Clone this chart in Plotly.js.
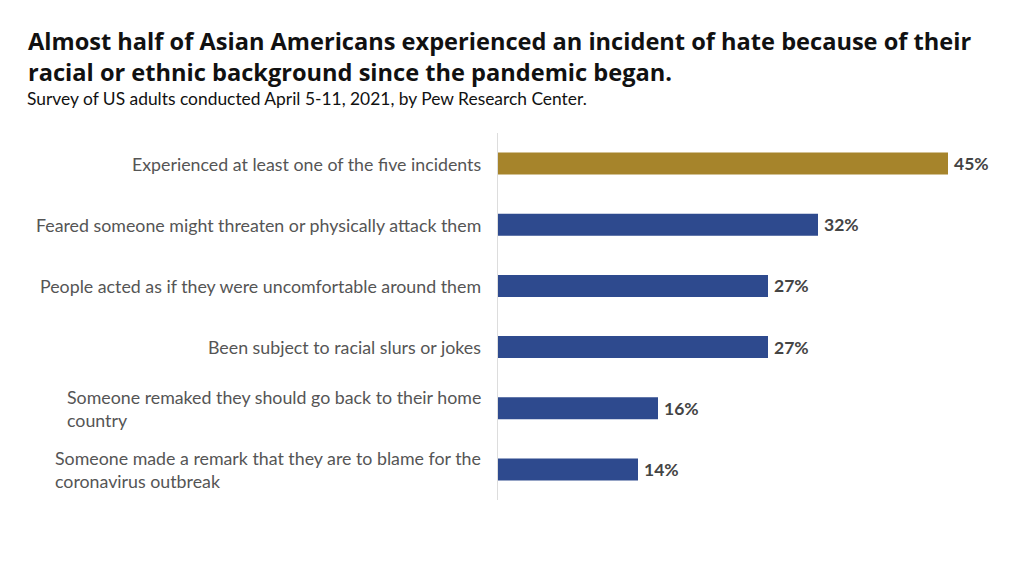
<!DOCTYPE html>
<html>
<head>
<meta charset="utf-8">
<script src="https://cdn.plot.ly/plotly-3.0.1.min.js"></script>
<style>html,body{margin:0;padding:0;background:#fff;}#chart{width:1024px;height:576px;}</style>
</head>
<body>
<div id="chart"></div>
<script>
const categories = [
  "Experienced at least one of the five incidents",
  "Feared someone might threaten or physically attack them",
  "People acted as if they were uncomfortable around them",
  "Been subject to racial slurs or jokes",
  "Someone remaked they should go back to their home<br>country",
  "Someone made a remark that they are to blame for the<br>coronavirus outbreak"
];
const values = [45, 32, 27, 27, 16, 14];
const valueLabels = ["45%", "32%", "27%", "27%", "16%", "14%"];
const barColors = ["#A6842B", "#2E4A8E", "#2E4A8E", "#2E4A8E", "#2E4A8E", "#2E4A8E"];

const FONT = "Lato, 'Open Sans', sans-serif";
const ids = categories.map((c, i) => "c" + i);

const annotations = [];
categories.forEach((c, i) => {
  annotations.push({
    xref: "paper", yref: "y", x: 0, y: ids[i],
    xanchor: "right", yanchor: "middle", xshift: -15,
    align: "left", showarrow: false, text: c,
    font: {family: FONT, size: 17.8, color: "#555555"}
  });
  annotations.push({
    xref: "x", yref: "y", x: values[i], y: ids[i],
    xanchor: "left", yanchor: "middle", xshift: 4,
    showarrow: false, text: "<b>" + valueLabels[i] + "</b>",
    font: {family: FONT, size: 17.5, color: "#444444"}
  });
});
annotations.push({
  xref: "paper", yref: "paper", x: (25 - 498) / 506, y: 1 + (133 - 111) / 367,
  xanchor: "left", yanchor: "bottom", showarrow: false, align: "left",
  text: "Survey of US adults conducted April 5-11, 2021, by Pew Research Center.",
  font: {family: FONT, size: 17.4, color: "#111111"}
});

const trace = {
  type: "bar", orientation: "h",
  x: values, y: ids,
  marker: {color: barColors},
  hoverinfo: "none"
};

const layout = {
  width: 1024, height: 576,
  margin: {l: 498, r: 20, t: 133, b: 76},
  paper_bgcolor: "#ffffff", plot_bgcolor: "#ffffff",
  bargap: 0.64,
  title: {
    text: "<b>Almost half of Asian Americans experienced an incident of hate because of their<br>racial or ethnic background since the pandemic began.</b>",
    x: 28/1024, xanchor: "left", xref: "container",
    y: 1 - 50/576, yanchor: "top", yref: "container",
    font: {family: "'Open Sans', Lato, sans-serif", size: 23.6, color: "#111111"}
  },
  xaxis: {range: [0, 50.6], visible: false, fixedrange: true},
  yaxis: {autorange: "reversed", showticklabels: false, showgrid: false,
          showline: true, linecolor: "#dddddd", linewidth: 1, ticks: "", zeroline: false},
  showlegend: false,
  annotations: annotations
};

Plotly.newPlot("chart", [trace], layout, {displayModeBar: false, staticPlot: true});
</script>
</body>
</html>
